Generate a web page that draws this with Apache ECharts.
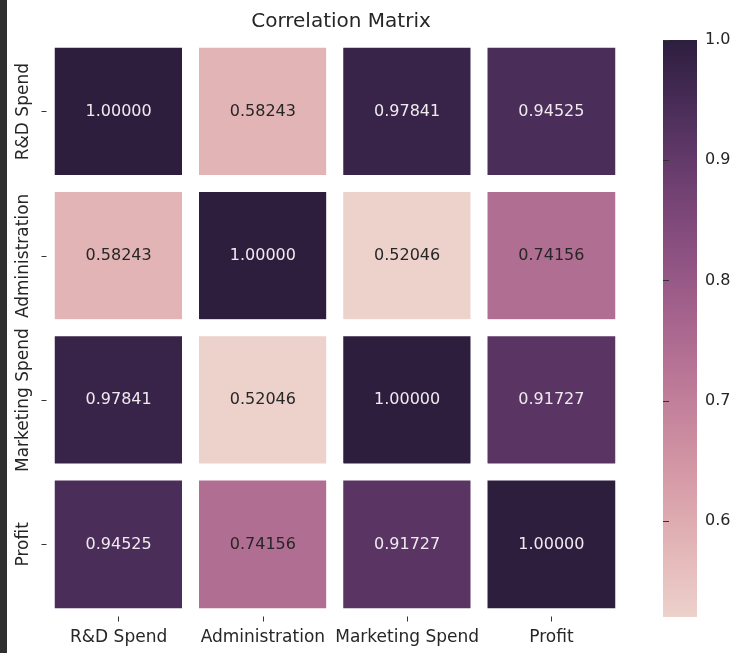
<!DOCTYPE html>
<html>
<head>
<meta charset="utf-8">
<script src="https://cdn.jsdelivr.net/npm/echarts@6/dist/echarts.min.js"></script>
<style>
  html, body { margin: 0; padding: 0; background: #fff; }
  #chart { width: 741px; height: 653px; }
</style>
</head>
<body>
<div id="chart"></div>
<script>
var labels = ["R&D Spend", "Administration", "Marketing Spend", "Profit"];
var matrix = [
  [1.00000, 0.58243, 0.97841, 0.94525],
  [0.58243, 1.00000, 0.52046, 0.74156],
  [0.97841, 0.52046, 1.00000, 0.91727],
  [0.94525, 0.74156, 0.91727, 1.00000]
];
var colorTicks = [0.6, 0.7, 0.8, 0.9, 1.0];
var vMin = 0.52046;
var vMax = 1.0;

// seaborn cubehelix_palette(as_cmap=True), light -> dark
var palette = ["#edd1cb", "#e5baba", "#daa4ac", "#cd8ea1", "#bd7a98", "#aa678f",
  "#935685", "#7b4778", "#613969", "#462b55", "#2d1e3e"];

var data = [];
for (var r = 0; r < matrix.length; r++) {
  for (var c = 0; c < matrix[r].length; c++) {
    data.push([c, r, matrix[r][c]]);
  }
}

var dom = document.getElementById("chart");
var chart = echarts.init(dom, null, { renderer: "canvas" });
var font = "DejaVu Sans";
var cbar = { x: 663, y: 40, w: 34, h: 577 };

// colorbar gradient (top = max), square corners like matplotlib
var stops = palette.map(function (col, i) {
  return { offset: 1 - i / (palette.length - 1), color: col };
}).reverse();

var option = {
  backgroundColor: "#fff",
  animation: false,
  title: {
    text: "Correlation Matrix",
    left: 336,
    top: 7,
    textAlign: "center",
    textStyle: { fontFamily: font, fontSize: 20, fontWeight: "normal", color: "#262626" }
  },
  graphic: [
    { type: "rect", shape: { x: 0, y: 0, width: 7, height: 653 }, style: { fill: "#2f2f2f" } },
    {
      type: "rect",
      shape: { x: cbar.x, y: cbar.y, width: cbar.w, height: cbar.h },
      style: { fill: new echarts.graphic.LinearGradient(0, 0, 0, 1, stops) }
    }
  ],
  grid: [
    { left: 46.5, top: 39.5, width: 577, height: 577 },
    { left: cbar.x, top: cbar.y, width: cbar.w, height: cbar.h }
  ],
  xAxis: [
    {
      type: "category",
      data: labels,
      gridIndex: 0,
      z: 10,
      axisLine: { show: true, lineStyle: { color: "rgba(0,0,0,0)" } },
      axisTick: { show: true, interval: 0, alignWithLabel: true, length: 5, lineStyle: { color: "#333" } },
      axisLabel: { interval: 0, fontFamily: font, fontSize: 17, color: "#262626", margin: 13 },
      splitLine: { show: false }
    },
    { type: "value", gridIndex: 1, show: false }
  ],
  yAxis: [
    {
      type: "category",
      data: labels,
      inverse: true,
      gridIndex: 0,
      z: 10,
      axisLine: { show: true, lineStyle: { color: "rgba(0,0,0,0)" } },
      axisTick: { show: true, interval: 0, alignWithLabel: true, length: 5, lineStyle: { color: "#333" } },
      axisLabel: { interval: 0, fontFamily: font, fontSize: 17, color: "#262626", rotate: 90, margin: 14 },
      splitLine: { show: false }
    },
    {
      type: "value",
      gridIndex: 1,
      position: "right",
      min: vMin,
      max: vMax,
      axisLine: { show: true, lineStyle: { color: "rgba(0,0,0,0)" } },
      splitLine: { show: false },
      axisTick: { show: true, length: 6, lineStyle: { color: "#333" }, customValues: colorTicks },
      axisLabel: {
        fontFamily: font, fontSize: 16, color: "#262626", margin: 8,
        customValues: colorTicks,
        formatter: function (v) { return v.toFixed(1); }
      }
    }
  ],
  visualMap: {
    type: "continuous",
    show: false,
    min: vMin,
    max: vMax,
    seriesIndex: 0,
    inRange: { color: palette }
  },
  series: [
    {
      type: "heatmap",
      xAxisIndex: 0,
      yAxisIndex: 0,
      z: 2,
      itemStyle: { borderColor: "#fff", borderWidth: 17 },
      emphasis: { disabled: true },
      label: {
        show: true,
        fontFamily: font,
        fontSize: 16,
        formatter: function (p) { return p.value[2].toFixed(5); }
      },
      // light text on dark cells, dark text on light cells
      data: data.map(function (d) {
        return { value: d, label: { color: d[2] > 0.8 ? "#f0eaf0" : "#262626" } };
      })
    }
  ]
};

chart.setOption(option);
window.addEventListener("resize", chart.resize);
</script>
</body>
</html>
